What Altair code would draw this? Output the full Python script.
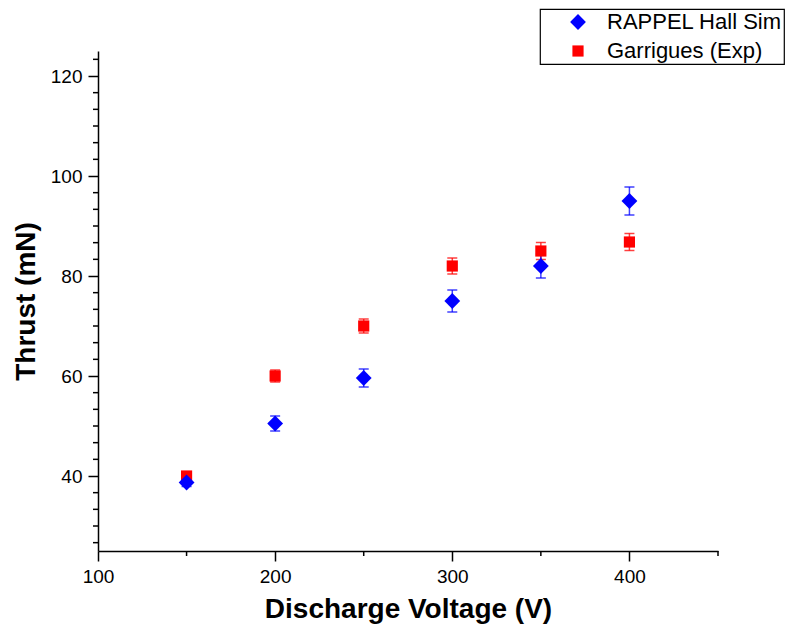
import altair as alt
import pandas as pd

# ---- data ----
voltage = [150, 200, 250, 300, 350, 400]
rappel_thrust = [38.7, 50.5, 59.6, 75.0, 82.0, 95.0]
rappel_err = [0.8, 1.5, 1.8, 2.2, 2.4, 2.8]
garrigues_thrust = [40.0, 60.0, 70.0, 82.0, 85.0, 86.8]
garrigues_err = [0.6, 1.2, 1.4, 1.6, 1.7, 1.7]
series_names = ["RAPPEL Hall Sim", "Garrigues (Exp)"]
series_colors = ["#0000FF", "#FF0000"]
series_shapes = ["diamond", "square"]
series_sizes = [250, 125]

x_major = [100, 200, 300, 400]
x_minor = [150, 250, 350, 450]
y_major = [40, 60, 80, 100, 120]
y_minor = [round(26.6667 + k * 20 / 6, 3) for k in range(30)]
y_minor = [v for v in y_minor if v <= 125 and all(abs(v - m) > 0.5 for m in y_major)]

FONT = "Liberation Sans"
W, H = 620, 500

rows = []
# Garrigues first so the RAPPEL markers draw on top
for v, t, e in zip(voltage, garrigues_thrust, garrigues_err):
    rows.append({"V": v, "T": t, "lo": t - e, "hi": t + e, "series": series_names[1]})
for v, t, e in zip(voltage, rappel_thrust, rappel_err):
    rows.append({"V": v, "T": t, "lo": t - e, "hi": t + e, "series": series_names[0]})
df = pd.DataFrame(rows)

xs = alt.Scale(domain=[100, 450], nice=False, zero=False)
ys = alt.Scale(domain=[25, 125], nice=False, zero=False)

xaxis = alt.Axis(values=x_major, title="Discharge Voltage (V)", grid=False,
                 tickSize=10, labelPadding=6, titlePadding=9, format="d",
                 labelFlush=False)
yaxis = alt.Axis(values=y_major, title="Thrust (mN)", grid=False,
                 tickSize=10, labelPadding=6, titlePadding=10, format="d",
                 labelFlush=False)

legend = alt.Legend(title=None, orient="none", legendX=442, legendY=-42,
                    labelFontSize=22, labelFont=FONT, labelColor="black",
                    strokeColor="black", padding=2,
                    rowPadding=7, symbolOffset=25, labelOffset=18,
                    labelLimit=400, symbolStrokeWidth=0,
                    fillColor="white")
color = alt.Color("series:N", scale=alt.Scale(domain=series_names, range=series_colors),
                  legend=legend)
shape = alt.Shape("series:N", scale=alt.Scale(domain=series_names, range=series_shapes),
                  legend=legend)
size = alt.Size("series:N", scale=alt.Scale(domain=series_names, range=series_sizes),
                legend=legend)

layers = []
# error bars, one layer group per series with fixed colour (Garrigues first)
for name, col in [(series_names[1], series_colors[1]), (series_names[0], series_colors[0])]:
    sub = alt.Chart(df).transform_filter(alt.datum.series == name)
    layers.append(sub.mark_rule(strokeWidth=1.5, opacity=0.75, color=col).encode(
        x=alt.X("V:Q", scale=xs, axis=xaxis),
        y=alt.Y("lo:Q", scale=ys, axis=yaxis),
        y2="hi:Q",
    ))
    for fld in ["lo", "hi"]:
        layers.append(sub.mark_tick(orient="horizontal", size=10, thickness=1.5,
                                    opacity=0.75, color=col).encode(
            x=alt.X("V:Q", scale=xs, axis=xaxis),
            y=alt.Y(f"{fld}:Q", scale=ys, axis=yaxis),
        ))

points = alt.Chart(df).mark_point(filled=True, opacity=1, strokeWidth=0).encode(
    x=alt.X("V:Q", scale=xs, axis=xaxis),
    y=alt.Y("T:Q", scale=ys, axis=yaxis),
    color=color, shape=shape, size=size,
)
layers.append(points)

xminor_df = pd.DataFrame({"V": x_minor})
yminor_df = pd.DataFrame({"T": y_minor})
layers.append(alt.Chart(xminor_df).mark_rule(color="black", strokeWidth=1.5).encode(
    x=alt.X("V:Q", scale=xs, axis=xaxis),
    y=alt.value(H), y2=alt.value(H + 5),
))
layers.append(alt.Chart(yminor_df).mark_rule(color="black", strokeWidth=1.5).encode(
    y=alt.Y("T:Q", scale=ys, axis=yaxis),
    x=alt.value(-5), x2=alt.value(0),
))

chart = alt.layer(*layers).properties(
    width=W, height=H,
    background="white",
    autosize=alt.AutoSizeParams(type="none"),
    padding={"left": 90, "top": 43, "right": 69, "bottom": 75},
).configure_view(stroke=None).configure_axis(
    domainColor="black", domainWidth=1.5, tickColor="black", tickWidth=1.5,
    labelFont=FONT, labelFontSize=19, labelColor="black",
    titleFont=FONT, titleFontSize=28, titleFontWeight="bold", titleColor="black",
).configure_legend(strokeWidth=1.2)

chart.save("out.html", embed_options={"renderer": "svg", "actions": False})
